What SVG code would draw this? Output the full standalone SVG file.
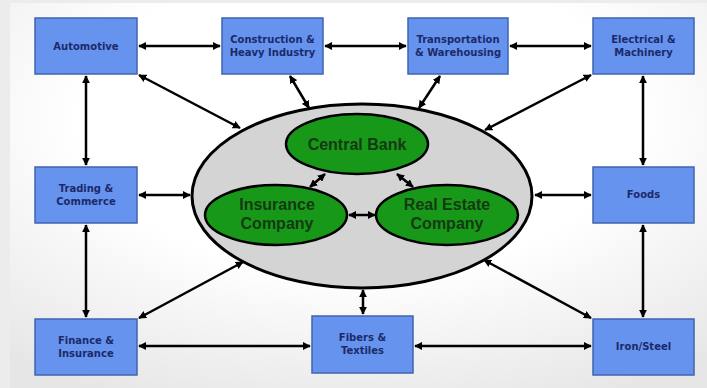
<svg xmlns="http://www.w3.org/2000/svg" width="707" height="388" viewBox="0 0 707 388">
<defs>
<radialGradient id="bg" cx="0.5" cy="0.3" r="0.8">
<stop offset="0.5" stop-color="#ffffff"/>
<stop offset="1" stop-color="#e6e6e6"/>
</radialGradient>
<marker id="ah" viewBox="0 0 10 10" refX="9" refY="5" markerWidth="3.2" markerHeight="3.2" orient="auto-start-reverse" markerUnits="strokeWidth">
<path d="M0,0 L10,5 L0,10 z" fill="#000"/>
</marker>
<style>
.box{fill:#6593ee;stroke:#3f63b0;stroke-width:1.5}
.bt{font-family:"DejaVu Sans",Verdana,sans-serif;font-weight:bold;font-size:10px;fill:#1c2a6a;text-anchor:middle}
.gr{fill:#189818;stroke:#000;stroke-width:2.5}
.gt{font-family:"Liberation Sans",Arial,sans-serif;font-weight:bold;font-size:16px;fill:#133a13;text-anchor:middle}
.c{stroke:#000;stroke-width:2.5;fill:none;marker-start:url(#ah);marker-end:url(#ah)}
</style>
</defs>
<rect x="0" y="0" width="707" height="388" fill="#ececec"/>
<rect x="10" y="3" width="697" height="385" fill="url(#bg)"/>

<g id="hub">
<ellipse cx="362" cy="196" rx="170" ry="92" fill="#d4d4d4" stroke="#000" stroke-width="3"/>
</g>

<g id="connectors">
<line class="c" x1="139" y1="46" x2="220" y2="46"/>
<line class="c" x1="325" y1="46" x2="406" y2="46"/>
<line class="c" x1="510" y1="46" x2="591" y2="46"/>
<line class="c" x1="86" y1="76" x2="86" y2="165"/>
<line class="c" x1="86" y1="225" x2="86" y2="317"/>
<line class="c" x1="643" y1="76" x2="643" y2="165"/>
<line class="c" x1="643" y1="225" x2="643" y2="317"/>
<line class="c" x1="139" y1="346" x2="310" y2="346"/>
<line class="c" x1="415" y1="346" x2="591" y2="346"/>
<line class="c" x1="139" y1="75" x2="240" y2="128"/>
<line class="c" x1="290" y1="76" x2="309" y2="108"/>
<line class="c" x1="440" y1="76" x2="419" y2="108"/>
<line class="c" x1="591" y1="75" x2="485" y2="130"/>
<line class="c" x1="139" y1="195" x2="190" y2="195"/>
<line class="c" x1="535" y1="195" x2="591" y2="195"/>
<line class="c" x1="139" y1="318" x2="243" y2="262"/>
<line class="c" x1="591" y1="318" x2="484" y2="260"/>
<line class="c" x1="363" y1="290" x2="363" y2="314"/>
<line class="c" x1="325" y1="174" x2="310" y2="187"/>
<line class="c" x1="397" y1="174" x2="413" y2="187"/>
<line class="c" x1="349" y1="215" x2="375" y2="215"/>
</g>

<g id="central-bank">
<ellipse class="gr" cx="357" cy="144" rx="71" ry="30"/>
<text class="gt" x="357" y="150">Central Bank</text>
</g>
<g id="insurance-company">
<ellipse class="gr" cx="276" cy="215" rx="71" ry="30"/>
<text class="gt" x="277" y="210">Insurance</text>
<text class="gt" x="277" y="229">Company</text>
</g>
<g id="real-estate-company">
<ellipse class="gr" cx="447" cy="215" rx="71" ry="30"/>
<text class="gt" x="447" y="210">Real Estate</text>
<text class="gt" x="447" y="229">Company</text>
</g>

<g id="automotive">
<rect class="box" x="35" y="18" width="102" height="56"/>
<text class="bt" x="86" y="50">Automotive</text>
</g>
<g id="construction">
<rect class="box" x="222" y="18" width="101" height="56"/>
<text class="bt" x="272.5" y="43">Construction &amp;</text>
<text class="bt" x="272.5" y="56">Heavy Industry</text>
</g>
<g id="transportation">
<rect class="box" x="408" y="18" width="100" height="56"/>
<text class="bt" x="458" y="43">Transportation</text>
<text class="bt" x="458" y="56">&amp; Warehousing</text>
</g>
<g id="electrical">
<rect class="box" x="593" y="18" width="101" height="56"/>
<text class="bt" x="643.5" y="43">Electrical &amp;</text>
<text class="bt" x="643.5" y="56">Machinery</text>
</g>
<g id="trading">
<rect class="box" x="35" y="167" width="102" height="56"/>
<text class="bt" x="86" y="192">Trading &amp;</text>
<text class="bt" x="86" y="205">Commerce</text>
</g>
<g id="foods">
<rect class="box" x="593" y="167" width="101" height="56"/>
<text class="bt" x="643.5" y="198">Foods</text>
</g>
<g id="finance">
<rect class="box" x="35" y="319" width="102" height="56"/>
<text class="bt" x="86" y="344">Finance &amp;</text>
<text class="bt" x="86" y="357">Insurance</text>
</g>
<g id="fibers">
<rect class="box" x="312" y="316" width="101" height="57"/>
<text class="bt" x="362.5" y="341">Fibers &amp;</text>
<text class="bt" x="362.5" y="354">Textiles</text>
</g>
<g id="iron-steel">
<rect class="box" x="593" y="319" width="101" height="56"/>
<text class="bt" x="643.5" y="350">Iron/Steel</text>
</g>
</svg>
